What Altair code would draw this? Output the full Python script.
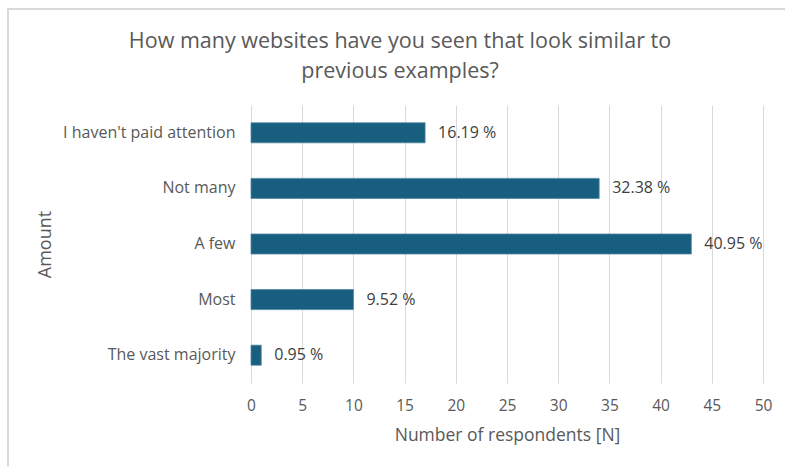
import altair as alt
import pandas as pd

categories = ["I haven't paid attention", "Not many", "A few", "Most", "The vast majority"]
counts = [17, 34, 43, 10, 1]
percent_labels = ["16.19 %", "32.38 %", "40.95 %", "9.52 %", "0.95 %"]
title_lines = ["How many websites have you seen that look similar to", "previous examples?"]

df = pd.DataFrame({"Amount": categories, "N": counts, "label": percent_labels})
title_df = pd.DataFrame({"t": ["\n".join(title_lines)]})

FONT = "Open Sans"
GREY = "#595959"

y_enc = alt.Y(
    "Amount:N",
    sort=categories,
    scale=alt.Scale(paddingInner=0.64, paddingOuter=0.32),
    axis=alt.Axis(
        title="Amount",
        titleFont=FONT, titleFontSize=18, titleFontWeight="normal", titleColor=GREY,
        titleX=-206, titleY=139, titleAngle=270, titleAlign="center", titleBaseline="middle",
        labelFont=FONT, labelFontSize=16, labelColor=GREY, labelPadding=16,
        domain=False, ticks=False, grid=False,
    ),
)

x_enc = alt.X(
    "N:Q",
    scale=alt.Scale(domain=[0, 50], nice=False),
    axis=alt.Axis(
        title="Number of respondents [N]",
        values=list(range(0, 55, 5)),
        titleFont=FONT, titleFontSize=17.5, titleFontWeight="normal", titleColor=GREY,
        titleY=52, titleBaseline="middle",
        labelFont=FONT, labelFontSize=15.5, labelColor=GREY, labelPadding=15,
        labelFlush=False,
        domain=False, ticks=False, grid=True, gridColor="#d9d9d9", gridWidth=1,
    ),
)

frame = alt.Chart(title_df).mark_rect(
    fill="white", fillOpacity=0, stroke="#d9d9d9", strokeWidth=2, clip=False
).encode(
    x=alt.value(-243), x2=alt.value(600), y=alt.value(-96), y2=alt.value(420)
)

title = alt.Chart(title_df).mark_text(
    align="center", baseline="middle", lineBreak="\n", lineHeight=30,
    font=FONT, fontSize=21.5, color=GREY,
).encode(x=alt.value(149), y=alt.value(-63), text="t:N")

bars = alt.Chart(df).mark_bar(color="#185E7F", stroke="#4f87a3", strokeWidth=0.8).encode(
    x=x_enc, y=y_enc
)

text = alt.Chart(df).mark_text(
    align="left", baseline="middle", dx=13, font=FONT, fontSize=16, color="#404040"
).encode(x="N:Q", y=alt.Y("Amount:N", sort=categories), text="label:N")

chart = alt.layer(frame, title, bars, text).properties(
    width=512,
    height=278,
    padding={"left": 251, "top": 105, "right": 22, "bottom": 83},
    autosize=alt.AutoSizeParams(type="none"),
    background="white",
).configure_view(stroke=None)

chart.save("out.html", embed_options={"renderer": "svg", "actions": False})
